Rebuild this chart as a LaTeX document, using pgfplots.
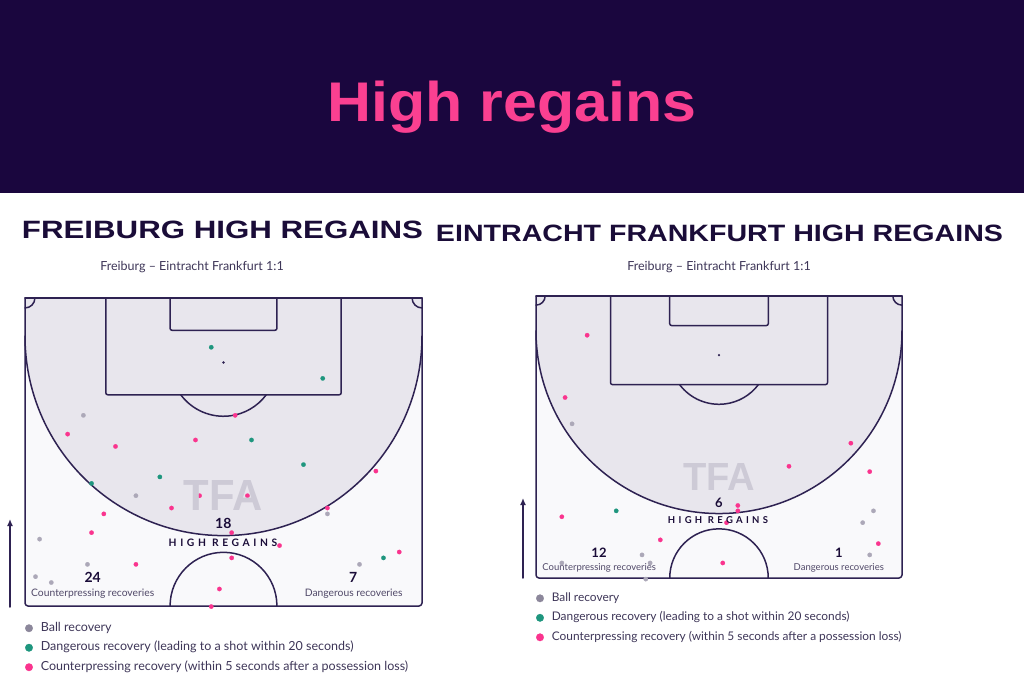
\documentclass[border=0pt]{standalone}
\usepackage{fontspec}
\setmainfont{Lato}
\newfontfamily\headfont{Liberation Sans}
\usepackage{graphicx}
\usepackage{pgfplots}
\usepackage{pgfplotstable}
\pgfplotsset{compat=1.18}
\usetikzlibrary{arrows.meta}

\definecolor{hdr}{RGB}{26,6,62}
\definecolor{hpink}{RGB}{250,64,145}
\definecolor{ttl}{RGB}{26,12,56}
\definecolor{sub}{RGB}{62,54,88}
\definecolor{lbl}{RGB}{80,72,104}
\definecolor{pline}{RGB}{46,34,82}
\definecolor{pshade}{RGB}{232,230,237}
\definecolor{pbg}{RGB}{249,249,251}
\definecolor{cpink}{RGB}{250,52,142}
\definecolor{cteal}{RGB}{30,150,126}
\definecolor{cgray}{RGB}{172,168,184}
\definecolor{lgray}{RGB}{140,135,155}
\definecolor{wm}{RGB}{205,202,214}

% Freiburg (left pitch): x = across pitch (m), y = distance from halfway line (m)
\pgfplotstableread{
x y
10.0 32.5
19.0 18.8
51.8 15.7
2.5 11.4
10.7 7.1
57.3 7.1
1.8 5.0
4.5 4.0
}\LGray
\pgfplotstableread{
x y
31.9 44.1
51.0 38.8
38.8 28.3
47.7 24.1
23.1 22.0
11.4 20.9
61.4 8.2
}\LTeal
\pgfplotstableread{
x y
36.0 32.5
7.3 29.3
15.5 27.2
29.2 28.3
60.1 23.0
29.9 18.8
38.1 18.8
25.1 16.7
51.8 16.7
13.5 15.7
11.4 12.5
35.4 12.5
43.6 10.3
64.1 9.2
35.4 8.2
19.0 7.1
33.3 2.9
31.9 -0.1
}\LPink
% Eintracht Frankfurt (right pitch)
\pgfplotstableread{
x y
6.7 28.7
62.7 12.5
60.7 10.3
19.7 4.3
62.0 4.3
4.8 2.8
21.2 2.8
20.4 -0.2
}\RGray
\pgfplotstableread{
x y
14.9 12.5
}\RTeal
\pgfplotstableread{
x y
9.5 45.2
5.4 33.6
58.5 25.1
47.0 20.8
62.0 19.8
37.5 13.5
37.5 12.5
4.8 11.4
35.4 10.3
23.1 7.1
63.6 6.4
34.7 2.8
}\RPink

\tikzset{pl/.style={line width=1.5pt, draw=pline, line cap=round, line join=round}}

\pgfplotsset{
  pitch/.style={scale only axis, hide axis, clip=false,
    xmin=0, xmax=68, ymin=0, ymax=52.5, anchor=south west,
    legend cell align=left,
    legend style={draw=none, fill=none, inner sep=0pt, anchor=north west,
      text=sub, row sep=7.5pt, column sep=7pt,
      nodes={inner sep=1pt, text height=8pt, text depth=2pt}}},
  dot/.style={only marks, mark=*, mark size=2.2pt, forget plot, color=#1,
    mark options={draw=#1, fill=#1, line width=0.2pt}},
  leg/.style={only marks, mark=*, mark size=3.8pt, color=#1,
    mark options={draw=#1, fill=#1, line width=0.2pt}}
}

\newcommand{\drawpitch}{%
  \fill[pbg, rounded corners=3pt] (0,52.5) -- (0,0) -- (68,0) -- (68,52.5) -- cycle;
  \fill[pshade] (0,52.5) -- (0,46) arc[start angle=180, end angle=360, radius=34] -- (68,52.5) -- cycle;
  \draw[pl] (0,46) arc[start angle=180, end angle=360, radius=34];
  \draw[pl, rounded corners=2pt] (13.84,52.5) -- (13.84,36) -- (54.16,36) -- (54.16,52.5);
  \draw[pl, rounded corners=2pt] (24.84,52.5) -- (24.84,47) -- (43.16,47) -- (43.16,52.5);
  \draw[pl] (26.68,36) arc[start angle=216.87, end angle=323.13, radius=9.15];
  \fill[pline] (34,41.5) circle[radius=0.22];
  \draw[pl] (24.85,0) arc[start angle=180, end angle=0, radius=9.15];
  \draw[pl] (0,50.8) arc[start angle=-90, end angle=0, radius=1.7];
  \draw[pl] (66.3,52.5) arc[start angle=180, end angle=270, radius=1.7];
  \draw[pl, rounded corners=3pt] (0,52.5) -- (0,0) -- (68,0) -- (68,52.5);
  \draw[pl] (0,52.5) -- (68,52.5);
}

\begin{document}
\begin{tikzpicture}[x=1pt, y=1pt]
\useasboundingbox (0,0) rectangle (1024,683);
\fill[white] (0,0) rectangle (1024,683);
\fill[hdr] (0,490) rectangle (1024,683);
\node[anchor=base, text=hpink, inner sep=0pt] at (512,561)
  {\resizebox{369pt}{40.5pt}{\headfont\bfseries High regains}};

\node[anchor=base, text=ttl, inner sep=0pt] at (222.5,444)
  {\resizebox{401pt}{17.5pt}{\headfont\bfseries FREIBURG HIGH REGAINS}};
\node[anchor=base, text=ttl, inner sep=0pt] at (719.5,441)
  {\resizebox{567pt}{16.5pt}{\headfont\bfseries EINTRACHT FRANKFURT HIGH REGAINS}};
\node[anchor=base, text=sub, inner sep=0pt] at (192,412)
  {\fontsize{12.5}{14}\selectfont Freiburg – Eintracht Frankfurt 1:1};
\node[anchor=base, text=sub, inner sep=0pt] at (719,412)
  {\fontsize{12.5}{14}\selectfont Freiburg – Eintracht Frankfurt 1:1};

% Left pitch
\begin{axis}[pitch, at={(25pt,77pt)}, width=397pt, height=308pt,
  legend style={at={(0.0,-0.052)}, font=\fontsize{12.5}{14}\selectfont}]
  \drawpitch
  \addplot[dot=cgray] table {\LGray};
  \addplot[dot=cteal] table {\LTeal};
  \addplot[dot=cpink] table {\LPink};
  \addlegendimage{leg=lgray}
  \addlegendentry{Ball recovery}
  \addlegendimage{leg=cteal}
  \addlegendentry{Dangerous recovery (leading to a shot within 20 seconds)}
  \addlegendimage{leg=cpink}
  \addlegendentry{Counterpressing recovery (within 5 seconds after a possession loss)}
\end{axis}

% Right pitch
\begin{axis}[pitch, at={(536pt,105pt)}, width=366pt, height=282pt,
  legend style={at={(0.0,-0.05)}, font=\fontsize{11.9}{13}\selectfont}]
  \drawpitch
  \addplot[dot=cgray] table {\RGray};
  \addplot[dot=cteal] table {\RTeal};
  \addplot[dot=cpink] table {\RPink};
  \addlegendimage{leg=lgray}
  \addlegendentry{Ball recovery}
  \addlegendimage{leg=cteal}
  \addlegendentry{Dangerous recovery (leading to a shot within 20 seconds)}
  \addlegendimage{leg=cpink}
  \addlegendentry{Counterpressing recovery (within 5 seconds after a possession loss)}
\end{axis}

% watermarks and labels, left
\node[text=wm, inner sep=0pt] at (223,188) {\resizebox{79pt}{30pt}{\headfont\bfseries TFA}};
\node[anchor=base, text=ttl, inner sep=0pt] at (223.3,154.7) {\fontsize{14}{16}\selectfont\bfseries 18};
\node[anchor=base, text=ttl, inner sep=0pt] at (223,137) {\fontsize{10.3}{12}\selectfont\bfseries\addfontfeature{LetterSpace=35}HIGH REGAINS};
\node[anchor=base, text=ttl, inner sep=0pt] at (92.7,100.7) {\fontsize{14}{16}\selectfont\bfseries 24};
\node[anchor=base, text=lbl, inner sep=0pt] at (92.7,86.2) {\fontsize{10.3}{12}\selectfont Counterpressing recoveries};
\node[anchor=base, text=ttl, inner sep=0pt] at (353.3,100.7) {\fontsize{14}{16}\selectfont\bfseries 7};
\node[anchor=base, text=lbl, inner sep=0pt] at (353.7,86.2) {\fontsize{10.3}{12}\selectfont Dangerous recoveries};

% watermarks and labels, right
\node[text=wm, inner sep=0pt] at (719,206) {\resizebox{72pt}{27pt}{\headfont\bfseries TFA}};
\node[anchor=base, text=ttl, inner sep=0pt] at (719,175.7) {\fontsize{13}{15}\selectfont\bfseries 6};
\node[anchor=base, text=ttl, inner sep=0pt] at (718,159.5) {\fontsize{9.5}{11}\selectfont\bfseries\addfontfeature{LetterSpace=35}HIGH REGAINS};
\node[anchor=base, text=ttl, inner sep=0pt] at (599,125.6) {\fontsize{13}{15}\selectfont\bfseries 12};
\node[anchor=base, text=lbl, inner sep=0pt] at (599.2,113) {\fontsize{9.5}{11}\selectfont Counterpressing recoveries};
\node[anchor=base, text=ttl, inner sep=0pt] at (839,125.6) {\fontsize{13}{15}\selectfont\bfseries 1};
\node[anchor=base, text=lbl, inner sep=0pt] at (838.8,113) {\fontsize{9.5}{11}\selectfont Dangerous recoveries};

% arrows
\draw[pl, -{Latex[length=7pt, width=6pt]}] (10,76) -- (10,164);
\draw[pl, -{Latex[length=7pt, width=6pt]}] (523,105) -- (523,185);
\end{tikzpicture}
\end{document}
